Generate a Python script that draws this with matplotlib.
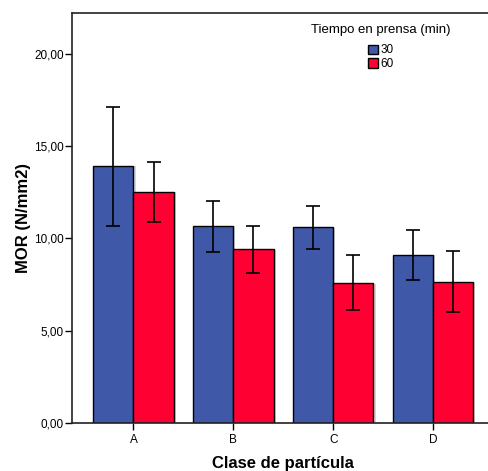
import matplotlib
matplotlib.use("Agg")
import matplotlib.pyplot as plt
import numpy as np
from matplotlib.patches import Patch
import matplotlib.patheffects as pe
from matplotlib.ticker import FuncFormatter

plt.rcParams['font.family'] = ['Liberation Sans', 'DejaVu Sans']

categories = ['A', 'B', 'C', 'D']
series_names = ['30', '60']
mean_30 = [13.93, 10.68, 10.62, 9.11]
mean_60 = [12.52, 9.43, 7.59, 7.64]
err_lo_30 = [10.68, 9.27, 9.43, 7.75]
err_hi_30 = [17.13, 12.03, 11.76, 10.46]
err_lo_60 = [10.89, 8.13, 6.12, 6.02]
err_hi_60 = [14.15, 10.68, 9.11, 9.32]
yticks = [0, 5, 10, 15, 20]

colors = ['#3F58A8', '#FF0033']

fig = plt.figure(figsize=(4.88, 4.71), dpi=100)
ax = fig.add_axes([72/488, (471-423)/471, (488-72)/488 + 0.01, (423-13)/471])

x = np.arange(len(categories))
w = 0.404
shadow = [pe.SimplePatchShadow(offset=(1.5, -0.5), shadow_rgbFace='#BBBBBB', alpha=0.6), pe.Normal()]
for i, (m, lo, hi) in enumerate([(mean_30, err_lo_30, err_hi_30), (mean_60, err_lo_60, err_hi_60)]):
    pos = x + (i - 0.5) * w
    bars = ax.bar(pos, m, width=w, color=colors[i], edgecolor='black', linewidth=1.0, zorder=2)
    for b in bars:
        b.set_path_effects(shadow)
    m = np.array(m); lo = np.array(lo); hi = np.array(hi)
    ax.errorbar(pos, m, yerr=[m - lo, hi - m], fmt='none', ecolor='black',
                elinewidth=1.2, capsize=5, capthick=1.2, zorder=3)

ax.set_xlim(-0.616, 3.6)
ax.set_ylim(0, 22.2)
ax.set_yticks(yticks)
ax.yaxis.set_major_formatter(FuncFormatter(lambda v, p: f"{v:.2f}".replace('.', ',')))
ax.set_xticks(x)
ax.set_xticklabels(categories)
ax.tick_params(axis='both', direction='out', length=5, width=1, labelsize=8.5, colors='black')
ax.tick_params(axis='y', pad=1)
ax.tick_params(axis='x', pad=3)
for s in ax.spines.values():
    s.set_linewidth(1.2)
    s.set_color('#222222')

ax.set_ylabel('MOR (N/mm2)', fontsize=12, fontweight='bold', labelpad=2)
ax.set_xlabel('Clase de partícula', fontsize=12, fontweight='bold', labelpad=7)

handles = [Patch(facecolor=colors[0], edgecolor='black', label=series_names[0]),
           Patch(facecolor=colors[1], edgecolor='black', label=series_names[1])]
leg = ax.legend(handles=handles, title='Tiempo en prensa (min)', loc='upper left',
                bbox_to_anchor=(0.548, 0.993), frameon=False, fontsize=8.5,
                title_fontsize=9.5, handlelength=0.85, handleheight=0.85,
                handletextpad=0.2, labelspacing=0.15, borderpad=0.2)
leg._legend_box.align = 'center'
leg._legend_box.sep = 6

fig.savefig('out.png', dpi=100)
